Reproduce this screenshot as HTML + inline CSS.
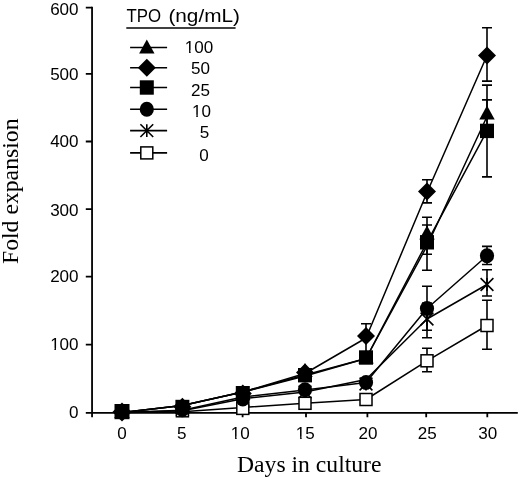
<!DOCTYPE html>
<html><head><meta charset="utf-8"><style>
html,body{margin:0;padding:0;background:#fff;}
svg{display:block;will-change:transform;}
.tk{font-family:"Liberation Sans",sans-serif;font-size:15.8px;fill:#000;}
.lg{font-family:"Liberation Sans",sans-serif;font-size:18px;fill:#000;}
.ti{font-family:"Liberation Serif",serif;font-size:22.7px;fill:#000;}
</style></head><body>
<svg width="520" height="478" viewBox="0 0 520 478">
<path d="M92.05 6.8V417.2M85.8 412.8H517.8" stroke="#000" stroke-width="1.8" fill="none"/>
<path d="M85.8 344.7H92.05M85.8 276.7H92.05M85.8 209.1H92.05M85.8 141.5H92.05M85.8 73.8H92.05M85.8 7.7H92.05M122 412.8V417.2M182.4 412.8V417.2M242.6 412.8V417.2M306 412.8V417.2M367.4 412.8V417.2M426.2 412.8V417.2M487.3 412.8V417.2" stroke="#000" stroke-width="1.8" fill="none"/>
<text transform="translate(78.6 417.6) scale(1.08 1)" text-anchor="end" class="tk">0</text>
<text transform="translate(78.6 350.4) scale(1.08 1)" text-anchor="end" class="tk">100</text><rect x="50.88" y="347.90" width="3.52" height="3.4" fill="#fff"/><rect x="55.95" y="347.90" width="3.43" height="3.4" fill="#fff"/>
<text transform="translate(78.6 281.7) scale(1.08 1)" text-anchor="end" class="tk">200</text>
<text transform="translate(78.6 215.5) scale(1.08 1)" text-anchor="end" class="tk">300</text>
<text transform="translate(78.6 147.1) scale(1.08 1)" text-anchor="end" class="tk">400</text>
<text transform="translate(78.6 80.0) scale(1.08 1)" text-anchor="end" class="tk">500</text>
<text transform="translate(78.6 14.9) scale(1.08 1)" text-anchor="end" class="tk">600</text>
<text transform="translate(122.05 439.0) scale(1.08 1)" text-anchor="middle" class="tk">0</text>
<text transform="translate(181.65 439.0) scale(1.08 1)" text-anchor="middle" class="tk">5</text>
<text transform="translate(240.3 439.0) scale(1.08 1)" text-anchor="middle" class="tk">10</text><rect x="231.56" y="436.50" width="3.52" height="3.4" fill="#fff"/><rect x="236.63" y="436.50" width="3.43" height="3.4" fill="#fff"/>
<text transform="translate(305.35 439.0) scale(1.08 1)" text-anchor="middle" class="tk">15</text><rect x="296.61" y="436.50" width="3.52" height="3.4" fill="#fff"/><rect x="301.68" y="436.50" width="3.43" height="3.4" fill="#fff"/>
<text transform="translate(368.05 439.0) scale(1.08 1)" text-anchor="middle" class="tk">20</text>
<text transform="translate(427.35 439.0) scale(1.08 1)" text-anchor="middle" class="tk">25</text>
<text transform="translate(487.85 439.0) scale(1.08 1)" text-anchor="middle" class="tk">30</text>
<text x="237" y="472" class="ti" textLength="144.5" lengthAdjust="spacingAndGlyphs">Days in culture</text>
<text transform="translate(17.5 264) rotate(-90)" x="0" y="0" class="ti" textLength="145.5" lengthAdjust="spacingAndGlyphs">Fold expansion</text>
<polyline points="122.00,412.50 182.40,410.80 242.80,398.80 305.00,392.00 366.00,379.50 427.00,319.00 487.00,284.50" fill="none" stroke="#000" stroke-width="1.5" stroke-linejoin="round"/>
<polyline points="122.00,412.50 182.40,411.80 242.80,407.40 305.00,403.30 366.00,399.50 427.00,360.80 487.00,325.50" fill="none" stroke="#000" stroke-width="1.5" stroke-linejoin="round"/>
<polyline points="122.00,412.50 182.40,410.30 242.80,397.00 305.00,390.00 366.00,382.50 427.00,308.50 487.00,255.80" fill="none" stroke="#000" stroke-width="1.5" stroke-linejoin="round"/>
<polyline points="122.00,412.50 182.40,405.50 242.80,392.00 305.00,376.00 366.00,358.50 427.00,242.30 487.00,130.90" fill="none" stroke="#000" stroke-width="1.5" stroke-linejoin="round"/>
<polyline points="122.00,412.50 182.40,405.50 242.80,392.00 305.00,373.50 366.00,338.00 427.00,192.50 487.00,55.50" fill="none" stroke="#000" stroke-width="1.5" stroke-linejoin="round"/>
<polyline points="122.00,412.50 182.40,405.50 242.80,392.00 305.00,375.00 366.00,358.50 427.00,246.00 487.00,116.50" fill="none" stroke="#000" stroke-width="1.5" stroke-linejoin="round"/>
<path d="M487 27.8V81.1M482 27.8H492M482 81.1H492" stroke="#000" stroke-width="1.6" fill="none"/>
<path d="M487 85.1V176.9M482 85.1H492M482 176.9H492" stroke="#000" stroke-width="1.6" fill="none"/>
<path d="M487 99.9V127.1M482 99.9H492M482 127.1H492" stroke="#000" stroke-width="1.6" fill="none"/>
<path d="M487 246.4V264.5M482 246.4H492M482 264.5H492" stroke="#000" stroke-width="1.6" fill="none"/>
<path d="M487 269.8V296.0M482 269.8H492M482 296.0H492" stroke="#000" stroke-width="1.6" fill="none"/>
<path d="M487 300.2V349.3M482 300.2H492M482 349.3H492" stroke="#000" stroke-width="1.6" fill="none"/>
<path d="M427 179.8V202.9M422 179.8H432M422 202.9H432" stroke="#000" stroke-width="1.6" fill="none"/>
<path d="M427 217.3V254.2M422 217.3H432M422 254.2H432" stroke="#000" stroke-width="1.6" fill="none"/>
<path d="M427 225.0V270.3M422 225.0H432M422 270.3H432" stroke="#000" stroke-width="1.6" fill="none"/>
<path d="M427 286.3V330.3M422 286.3H432M422 330.3H432" stroke="#000" stroke-width="1.6" fill="none"/>
<path d="M427 303.0V337.8M422 303.0H432M422 337.8H432" stroke="#000" stroke-width="1.6" fill="none"/>
<path d="M427 348.2V371.7M422 348.2H432M422 371.7H432" stroke="#000" stroke-width="1.6" fill="none"/>
<path d="M366 323.8V355.0M361 323.8H371M361 355.0H371" stroke="#000" stroke-width="1.6" fill="none"/>
<path d="M122.00 405.60V418.40M115.60 405.60L128.40 418.40M128.40 405.60L115.60 418.40" stroke="#000" stroke-width="1.6" fill="none"/>
<path d="M182.40 403.60V416.40M176.00 403.60L188.80 416.40M188.80 403.60L176.00 416.40" stroke="#000" stroke-width="1.6" fill="none"/>
<path d="M242.80 393.10V405.90M236.40 393.10L249.20 405.90M249.20 393.10L236.40 405.90" stroke="#000" stroke-width="1.6" fill="none"/>
<path d="M305.00 385.60V398.40M298.60 385.60L311.40 398.40M311.40 385.60L298.60 398.40" stroke="#000" stroke-width="1.6" fill="none"/>
<path d="M366.00 377.60V390.40M359.60 377.60L372.40 390.40M372.40 377.60L359.60 390.40" stroke="#000" stroke-width="1.6" fill="none"/>
<path d="M427.00 312.60V325.40M420.60 312.60L433.40 325.40M433.40 312.60L420.60 325.40" stroke="#000" stroke-width="1.6" fill="none"/>
<path d="M487.00 278.10V290.90M480.60 278.10L493.40 290.90M493.40 278.10L480.60 290.90" stroke="#000" stroke-width="1.6" fill="none"/>
<rect x="116.00" y="406.00" width="12.0" height="12.0" fill="#fff" stroke="#000" stroke-width="1.5"/>
<rect x="176.40" y="404.80" width="12.0" height="12.0" fill="#fff" stroke="#000" stroke-width="1.5"/>
<rect x="236.80" y="402.40" width="12.0" height="12.0" fill="#fff" stroke="#000" stroke-width="1.5"/>
<rect x="299.00" y="397.30" width="12.0" height="12.0" fill="#fff" stroke="#000" stroke-width="1.5"/>
<rect x="360.00" y="393.50" width="12.0" height="12.0" fill="#fff" stroke="#000" stroke-width="1.5"/>
<rect x="421.00" y="354.80" width="12.0" height="12.0" fill="#fff" stroke="#000" stroke-width="1.5"/>
<rect x="481.00" y="319.50" width="12.0" height="12.0" fill="#fff" stroke="#000" stroke-width="1.5"/>
<ellipse cx="122.00" cy="412.00" rx="7.1" ry="7.5" fill="#000"/>
<ellipse cx="182.40" cy="409.50" rx="7.1" ry="7.5" fill="#000"/>
<ellipse cx="242.80" cy="399.00" rx="7.1" ry="7.5" fill="#000"/>
<ellipse cx="305.00" cy="389.80" rx="7.1" ry="7.5" fill="#000"/>
<ellipse cx="366.00" cy="382.50" rx="7.1" ry="7.5" fill="#000"/>
<ellipse cx="427.00" cy="308.50" rx="7.1" ry="7.5" fill="#000"/>
<ellipse cx="487.00" cy="255.80" rx="7.1" ry="7.5" fill="#000"/>
<rect x="114.50" y="404.00" width="15.0" height="15.2" fill="#000"/>
<rect x="175.40" y="399.80" width="14.0" height="14.4" fill="#000"/>
<rect x="235.80" y="386.00" width="14.0" height="14.4" fill="#000"/>
<rect x="298.00" y="368.00" width="14.0" height="14.4" fill="#000"/>
<rect x="359.00" y="350.30" width="14.0" height="14.4" fill="#000"/>
<rect x="420.00" y="235.10" width="14.0" height="14.4" fill="#000"/>
<rect x="480.00" y="123.70" width="14.0" height="14.4" fill="#000"/>
<path d="M122.00 402.40L131.60 412.00L122.00 421.60L112.40 412.00Z" fill="#000"/>
<path d="M182.40 397.70L191.40 406.70L182.40 415.70L173.40 406.70Z" fill="#000"/>
<path d="M242.80 384.50L251.80 393.50L242.80 402.50L233.80 393.50Z" fill="#000"/>
<path d="M305.00 363.60L314.00 372.60L305.00 381.60L296.00 372.60Z" fill="#000"/>
<path d="M366.00 327.00L375.00 336.00L366.00 345.00L357.00 336.00Z" fill="#000"/>
<path d="M427.00 182.40L436.00 191.40L427.00 200.40L418.00 191.40Z" fill="#000"/>
<path d="M487.00 46.50L496.00 55.50L487.00 64.50L478.00 55.50Z" fill="#000"/>
<path d="M122.00 404.10L129.70 418.10L114.30 418.10Z" fill="#000"/>
<path d="M182.40 398.60L190.10 412.60L174.70 412.60Z" fill="#000"/>
<path d="M242.80 385.60L250.50 399.60L235.10 399.60Z" fill="#000"/>
<path d="M305.00 363.10L312.70 377.10L297.30 377.10Z" fill="#000"/>
<path d="M366.00 349.60L373.70 363.60L358.30 363.60Z" fill="#000"/>
<path d="M427.00 225.60L434.70 239.60L419.30 239.60Z" fill="#000"/>
<path d="M487.00 105.60L494.70 119.60L479.30 119.60Z" fill="#000"/>
<text x="126.6" y="21.7" class="lg" textLength="34.6" lengthAdjust="spacingAndGlyphs">TPO</text>
<text x="168.4" y="21.7" class="lg" textLength="71.6" lengthAdjust="spacingAndGlyphs">(ng/mL)</text>
<path d="M126.3 28H235.6" stroke="#000" stroke-width="1.7"/>
<path d="M130.1 47.5H167.1" stroke="#000" stroke-width="1.6"/>
<path d="M146.80 39.60L154.50 53.60L139.10 53.60Z" fill="#000"/>
<text transform="translate(184.8 52.6) scale(1.08 1)" text-anchor="start" class="tk">100</text><rect x="185.55" y="50.10" width="3.52" height="3.4" fill="#fff"/><rect x="190.62" y="50.10" width="3.43" height="3.4" fill="#fff"/>
<path d="M130.1 67.7H167.1" stroke="#000" stroke-width="1.6"/>
<path d="M146.80 58.70L155.80 67.70L146.80 76.70L137.80 67.70Z" fill="#000"/>
<text transform="translate(191.0 73.5) scale(1.08 1)" text-anchor="start" class="tk">50</text>
<path d="M130.1 87.5H167.1" stroke="#000" stroke-width="1.6"/>
<rect x="139.80" y="80.30" width="14.0" height="14.4" fill="#000"/>
<text transform="translate(191.0 95.5) scale(1.08 1)" text-anchor="start" class="tk">25</text>
<path d="M130.1 109.3H167.1" stroke="#000" stroke-width="1.6"/>
<ellipse cx="146.80" cy="109.30" rx="7.1" ry="7.5" fill="#000"/>
<text transform="translate(192.0 117.2) scale(1.08 1)" text-anchor="start" class="tk">10</text><rect x="192.75" y="114.70" width="3.52" height="3.4" fill="#fff"/><rect x="197.82" y="114.70" width="3.43" height="3.4" fill="#fff"/>
<path d="M130.1 130.6H167.1" stroke="#000" stroke-width="1.6"/>
<path d="M146.80 124.20V137.00M140.40 124.20L153.20 137.00M153.20 124.20L140.40 137.00" stroke="#000" stroke-width="1.6" fill="none"/>
<text transform="translate(199.8 137.8) scale(1.08 1)" text-anchor="start" class="tk">5</text>
<path d="M130.1 152.9H167.1" stroke="#000" stroke-width="1.6"/>
<rect x="140.80" y="146.90" width="12.0" height="12.0" fill="#fff" stroke="#000" stroke-width="1.5"/>
<text transform="translate(199.3 161.3) scale(1.08 1)" text-anchor="start" class="tk">0</text>
</svg>
</body></html>
